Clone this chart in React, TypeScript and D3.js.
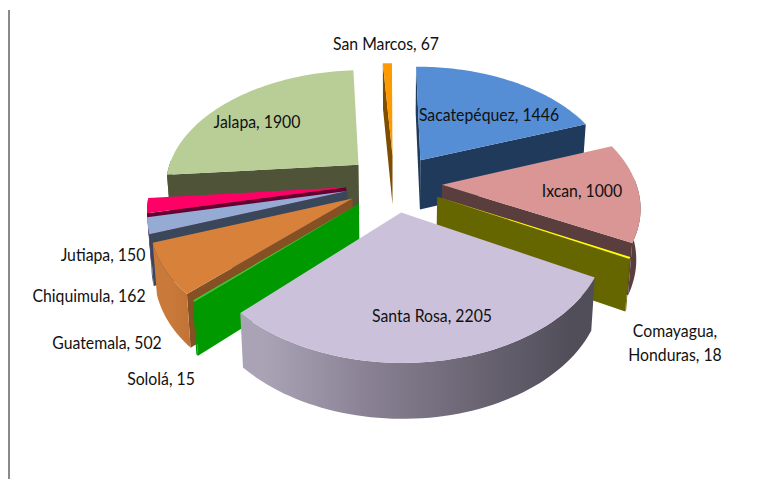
import React from "react";
import * as d3 from "d3";

const categories = ["San Marcos","Sacatepéquez","Ixcan","Comayagua, Honduras","Santa Rosa","Sololá","Guatemala","Chiquimula","Jutiapa","Jalapa"];
const values = [67,1446,1000,18,2205,15,502,162,150,1900];
const topColors = ["#ff9900","#558ed5","#d99694","#ffff00","#ccc1da","#33cc33","#d8813b","#95abd3","#ff0066","#b9cd96"];
const wallColors = ["#7f4d00","#203a5c","#5a3d3d","#666600","#55525f","#009900","#855024","#3a4659","#660033","#4f5439"];
const outerStops: (string[] | null)[] = [null,null,["#5a3d3d","#5a3d3d"],null,["#aaa3b6","#8a8294","#6c6675","#514e5a"],null,["#c9793a","#b56c30"],["#4f6080","#4f6080"],null,null];
const labelLines = [["San Marcos, 67"],["Sacatepéquez, 1446"],["Ixcan, 1000"],["Comayagua,","Honduras, 18"],["Santa Rosa, 2205"],["Sololá, 15"],["Guatemala, 502"],["Chiquimula, 162"],["Jutiapa, 150"],["Jalapa, 1900"]];
const labelX = [386,489,582,675,432,161,107,89,103,257];
const labelY = [50,121,197,337,322,385,349,302,261,128];

const W = 761, H = 479;
const cx = 394, cy = 183, R = 194, K = 0.595, D = 1200, EXPLODE = 48, DEPTH = 50;

function project(x: number, y: number, z: number): [number, number] {
  const p = 1 / (1 - y / D);
  const s = 1 - z * 0.00035;
  return [cx + x * p * s, cy + K * y * p + z * Math.sqrt(p)];
}

const rad = (deg: number) => (deg * Math.PI) / 180;
const pie = d3.pie<number>().sort(null).value(d => d).startAngle(rad(-3.5)).endAngle(rad(356.5));
const arcs = pie(values);
const line = d3.line<[number, number]>();

export default function App() {
  const order = d3.range(values.length).sort((a, b) => {
    const m = (i: number) => -Math.cos((arcs[i].startAngle + arcs[i].endAngle) / 2);
    return m(a) - m(b);
  });
  return (
    <svg width={W} height={H} style={{ position: "absolute", left: 0, top: 0 }}>
      <defs>
        {outerStops.map((st, i) => {
          if (!st) return null;
          const a = arcs[i];
          const mid = (a.startAngle + a.endAngle) / 2;
          const ex = EXPLODE * Math.sin(mid);
          const x0 = project(ex + R * Math.sin(a.endAngle), 0, 0)[0];
          const x1 = project(ex + R * Math.sin(a.startAngle), 0, 0)[0];
          return (
            <linearGradient key={i} id={`g${i}`} gradientUnits="userSpaceOnUse" x1={Math.min(x0, x1)} x2={Math.max(x0, x1)} y1={0} y2={0}>
              {st.map((c, j) => <stop key={j} offset={j / (st.length - 1)} stopColor={c} />)}
            </linearGradient>
          );
        })}
      </defs>
      <rect width={W} height={H} fill="#ffffff" />
      <line x1={9} x2={9} y1={10} y2={479} stroke="#8a8a8a" strokeWidth={2} />
      {order.map(i => {
        const a = arcs[i];
        const mid = (a.startAngle + a.endAngle) / 2;
        const ox = EXPLODE * Math.sin(mid), oy = -EXPLODE * Math.cos(mid);
        const pt = (t: number, r: number, z: number) =>
          project(ox + r * Math.sin(t), oy - r * Math.cos(t), z);
        const thetas = d3.range(0, 61).map(j => a.startAngle + ((a.endAngle - a.startAngle) * j) / 60);
        const top: [number, number][] = [pt(0, 0, 0), ...thetas.map(t => pt(t, R, 0))];
        const front = thetas.filter(t => Math.cos(t) < 0.05);
        const outer: [number, number][] = [...front.map(t => pt(t, R, 0)), ...front.slice().reverse().map(t => pt(t, R, DEPTH))];
        const cut = (t: number): [number, number][] => [pt(0, 0, 0), pt(t, R, 0), pt(t, R, DEPTH), pt(0, 0, DEPTH)];
        return (
          <g key={categories[i]}>
            {Math.sin(a.startAngle) < 0 && <path d={line(cut(a.startAngle)) + "Z"} fill={wallColors[i]} />}
            {Math.sin(a.endAngle) > 0 && <path d={line(cut(a.endAngle)) + "Z"} fill={wallColors[i]} />}
            {outer.length > 2 && <path d={line(outer) + "Z"} fill={outerStops[i] ? `url(#g${i})` : wallColors[i]} />}
            <path d={line(top) + "Z"} fill={topColors[i]} />
          </g>
        );
      })}
      <g fontFamily="Lato, 'Noto Sans', sans-serif" fontSize={17} fill="#111" textAnchor="middle">
        {labelLines.map((ls, i) =>
          ls.map((t, j) => (
            <text key={t} transform={`translate(${labelX[i]},${labelY[i] + j * 24}) scale(0.93,1)`}>{t}</text>
          ))
        )}
      </g>
    </svg>
  );
}
